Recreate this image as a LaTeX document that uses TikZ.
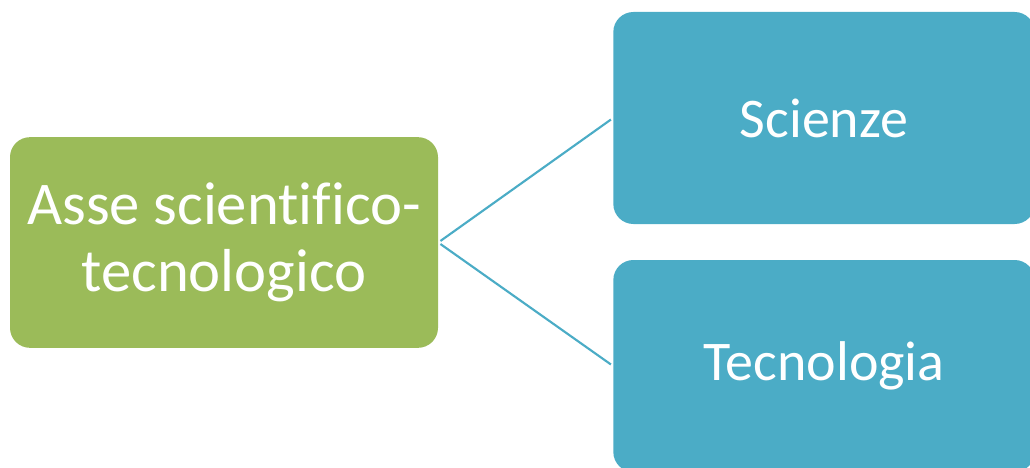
\documentclass[tikz,border=0pt]{standalone}
\usepackage{fontspec}
\setmainfont{Carlito}[Ligatures=CommonOff]
\usetikzlibrary{positioning}
\definecolor{assegreen}{HTML}{9BBB59}
\definecolor{areablue}{HTML}{4BACC6}

\begin{document}
\begin{tikzpicture}[x=0.75pt,y=-0.75pt,
    box/.style={rounded corners=15pt, text=white, align=center, inner sep=0pt},
    link/.style={draw=areablue, line width=1.6pt}]
\useasboundingbox (0,0) rectangle (1030,467);

% Main axis box
\node[box, fill=assegreen, minimum width=321pt, minimum height=158pt,
      font=\fontsize{45.5}{50.5}\selectfont] (asse) at (224,242.5) {Asse scientifico-\\tecnologico};

% Subject boxes
\node[box, fill=areablue, minimum width=316pt, minimum height=159pt,
      font=\fontsize{42}{50}\selectfont] (scienze) at (824,118) {Scienze};
\node[box, fill=areablue, minimum width=316pt, minimum height=159pt,
      font=\fontsize{42}{50}\selectfont] (tecnologia) at (824,366) {Tecnologia};

% Connectors
\draw[link, shorten <=2pt, shorten >=2pt] (asse.east) -- (scienze.west);
\draw[link, shorten <=2pt, shorten >=2pt] (asse.east) -- (tecnologia.west);

\end{tikzpicture}
\end{document}
